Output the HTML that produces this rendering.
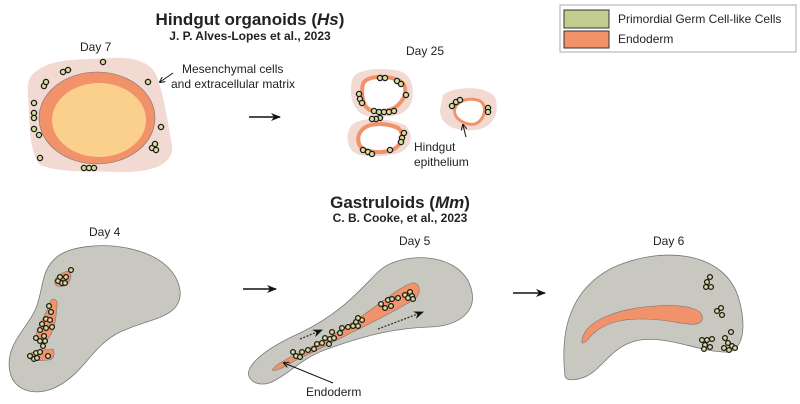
<!DOCTYPE html>
<html><head><meta charset="utf-8"><style>
html,body{margin:0;padding:0;background:#fff;width:800px;height:404px;overflow:hidden}
svg{display:block;font-family:"Liberation Sans",Arial,sans-serif}
.c{fill:#d8dc9c;stroke:#1a1a1a;stroke-width:1.3}
.t{font-size:12px;fill:#222}
</style></head><body>
<svg width="800" height="404" viewBox="0 0 800 404" xmlns="http://www.w3.org/2000/svg">
<defs>
<marker id="ah" markerWidth="10" markerHeight="8" refX="9" refY="4" orient="auto" markerUnits="userSpaceOnUse"><path d="M0,0 L10,4 L0,8 L3,4 Z" fill="#111"/></marker>
<marker id="sa" markerWidth="6" markerHeight="6" refX="5" refY="3" orient="auto" markerUnits="userSpaceOnUse"><path d="M0,0 L6,3 L0,6" fill="none" stroke="#111" stroke-width="1"/></marker>
</defs>
<text x="250" y="25" text-anchor="middle" font-size="17" font-weight="bold" fill="#222">Hindgut organoids (<tspan font-style="italic">Hs</tspan>)</text>
<text x="250" y="40" text-anchor="middle" font-size="12" font-weight="bold" fill="#222">J. P. Alves-Lopes et al., 2023</text>
<text x="400" y="208" text-anchor="middle" font-size="17" font-weight="bold" fill="#222">Gastruloids (<tspan font-style="italic">Mm</tspan>)</text>
<text x="400" y="222" text-anchor="middle" font-size="12" font-weight="bold" fill="#222">C. B. Cooke, et al., 2023</text>
<rect x="560" y="5" width="236" height="47" fill="#fff" stroke="#aaa"/>
<rect x="564" y="10" width="45" height="18" fill="#c5cc90" stroke="#333"/>
<rect x="564" y="31" width="45" height="17" fill="#f2926a" stroke="#333"/>
<text x="618" y="23" class="t">Primordial Germ Cell-like Cells</text>
<text x="618" y="43" class="t">Endoderm</text>
<!-- Day 7 -->
<text x="80" y="51" class="t">Day 7</text>
<path d="M38,70 C55,57 90,60 110,58 C140,56 155,66 158,80 C165,100 168,125 172,145 C175,165 150,173 120,172 C90,171 60,173 40,165 C28,150 30,120 28,95 C27,80 30,75 38,70 Z" fill="#f2d9d2"/>
<ellipse cx="97" cy="118" rx="58" ry="46" fill="#f2926a" stroke="#777" stroke-width="0.6"/>
<ellipse cx="99" cy="120" rx="47" ry="37" fill="#fbcf8c"/>
<g class="c">
<circle cx="103" cy="62" r="2.6"/><circle cx="63" cy="72" r="2.6"/><circle cx="68" cy="70" r="2.6"/><circle cx="44" cy="86" r="2.6"/><circle cx="46" cy="82" r="2.6"/><circle cx="148" cy="82" r="2.6"/>
<circle cx="34" cy="103" r="2.6"/><circle cx="34" cy="113" r="2.6"/><circle cx="34" cy="118" r="2.6"/><circle cx="34" cy="129" r="2.6"/><circle cx="39" cy="135" r="2.6"/><circle cx="161" cy="127" r="2.6"/>
<circle cx="152" cy="148" r="2.6"/><circle cx="155" cy="144" r="2.6"/><circle cx="156" cy="150" r="2.6"/><circle cx="40" cy="158" r="2.6"/><circle cx="84" cy="168" r="2.6"/><circle cx="89" cy="168" r="2.6"/><circle cx="94" cy="168" r="2.6"/>
</g>
<line x1="173" y1="73" x2="160" y2="82" stroke="#111" stroke-width="1" marker-end="url(#sa)"/>
<text x="182" y="73" class="t">Mesenchymal cells</text>
<text x="171" y="88" class="t">and extracellular matrix</text>
<line x1="249" y1="117" x2="280" y2="117" stroke="#111" stroke-width="1.5" marker-end="url(#ah)"/>
<!-- Day 25 -->
<text x="406" y="55" class="t">Day 25</text>
<path d="M352,80 C356,68 380,68 395,70 C410,72 415,85 412,100 C408,115 395,117 375,117 C355,117 348,100 352,80 Z" fill="#f2d9d2"/>
<path d="M352,125 C360,117 385,117 405,125 C415,135 412,150 395,154 C375,158 355,158 350,148 C346,140 347,130 352,125 Z" fill="#f2d9d2"/>
<path d="M443,95 C455,86 485,85 495,97 C500,110 495,128 475,130 C455,132 440,125 440,110 Z" fill="#f2d9d2"/>
<path d="M363,84 C366,76 385,75 398,80 C408,84 407,96 399,104 C392,112 380,112 370,110 C362,106 361,92 363,84 Z" fill="#fff" stroke="#f2926a" stroke-width="4"/>
<path d="M362,130 C368,123 385,122 398,128 C405,133 402,146 392,150 C380,154 365,152 360,146 C357,140 358,134 362,130 Z" fill="#fff" stroke="#f2926a" stroke-width="4"/>
<path d="M455,108 C458,100 470,97 480,101 C488,106 485,120 475,124 C465,126 452,118 455,108 Z" fill="#fff" stroke="#f2926a" stroke-width="3"/>
<g class="c">
<circle cx="380" cy="78" r="2.6"/><circle cx="385" cy="78" r="2.6"/><circle cx="397" cy="81" r="2.6"/><circle cx="401" cy="84" r="2.6"/><circle cx="406" cy="95" r="2.6"/>
<circle cx="359" cy="94" r="2.6"/><circle cx="360" cy="99" r="2.6"/><circle cx="362" cy="103" r="2.6"/>
<circle cx="374" cy="111" r="2.6"/><circle cx="379" cy="112" r="2.6"/><circle cx="384" cy="112" r="2.6"/><circle cx="389" cy="112" r="2.6"/><circle cx="394" cy="111" r="2.6"/><circle cx="380" cy="118" r="2.6"/><circle cx="376" cy="119" r="2.6"/><circle cx="372" cy="119" r="2.6"/>
<circle cx="404" cy="133" r="2.6"/><circle cx="402" cy="138" r="2.6"/><circle cx="401" cy="142" r="2.6"/><circle cx="363" cy="150" r="2.6"/><circle cx="368" cy="152" r="2.6"/><circle cx="372" cy="154" r="2.6"/><circle cx="390" cy="150" r="2.6"/>
<circle cx="452" cy="106" r="2.6"/><circle cx="456" cy="102" r="2.6"/><circle cx="460" cy="100" r="2.6"/><circle cx="488" cy="108" r="2.6"/><circle cx="488" cy="112" r="2.6"/>
</g>
<line x1="466" y1="137" x2="463" y2="125" stroke="#111" stroke-width="1" marker-end="url(#sa)"/>
<text x="414" y="151" class="t">Hindgut</text>
<text x="414" y="166" class="t">epithelium</text>
<!-- Day 4 -->
<text x="89" y="236" class="t">Day 4</text>
<path d="M10,372 C4,345 28,328 36,308 C44,288 40,270 58,256 C85,237 172,242 180,290 C183,318 150,318 120,332 C92,346 86,370 60,385 C38,398 14,392 10,372 Z" fill="#c8c8c1" stroke="#777" stroke-width="0.8"/>
<path d="M50,302 C53,296 58,300 57,306 C56,318 55,328 50,336 C45,344 38,344 36,338 C36,326 47,315 50,302 Z" fill="#f2926a" stroke="#777" stroke-width="0.6"/>
<path d="M56,278 C62,272 70,268 71,276 C70,284 64,288 57,286 C54,284 54,281 56,278 Z" fill="#f2926a" stroke="#777" stroke-width="0.6"/>
<path d="M28,355 C33,350 46,350 53,349 C55,354 54,360 48,360 C40,361 32,361 28,358 Z" fill="#f2926a" stroke="#777" stroke-width="0.6"/>
<g class="c">
<circle cx="71" cy="270" r="2.4"/><circle cx="58" cy="281" r="2.4"/><circle cx="62" cy="283" r="2.4"/><circle cx="66" cy="277" r="2.4"/><circle cx="65" cy="283" r="2.4"/><circle cx="60" cy="277" r="2.4"/>
<circle cx="51" cy="312" r="2.4"/><circle cx="46" cy="319" r="2.4"/><circle cx="50" cy="320" r="2.4"/><circle cx="42" cy="324" r="2.4"/><circle cx="46" cy="328" r="2.4"/><circle cx="52" cy="327" r="2.4"/><circle cx="40" cy="330" r="2.4"/><circle cx="44" cy="336" r="2.4"/><circle cx="36" cy="338" r="2.4"/><circle cx="40" cy="341" r="2.4"/><circle cx="45" cy="341" r="2.4"/><circle cx="49" cy="306" r="2.4"/>
<circle cx="43" cy="346" r="2.4"/><circle cx="30" cy="356" r="2.4"/><circle cx="34" cy="359" r="2.4"/><circle cx="36" cy="353" r="2.4"/><circle cx="37" cy="358" r="2.4"/><circle cx="40" cy="352" r="2.4"/><circle cx="48" cy="356" r="2.4"/>
</g>
<line x1="243" y1="289" x2="276" y2="289" stroke="#111" stroke-width="1.5" marker-end="url(#ah)"/>
<!-- Day 5 -->
<text x="399" y="245" class="t">Day 5</text>
<path d="M254,382 C238,372 258,352 300,333 C340,314 358,292 378,272 C398,252 456,250 470,285 C480,312 458,326 430,327 C392,328 360,337 322,351 C292,363 274,392 254,382 Z" fill="#c8c8c1" stroke="#777" stroke-width="0.8"/>
<path d="M272,370 C276,364 290,357 305,350 C330,338 360,318 380,303 C395,292 405,285 412,283 C420,282 422,292 415,299 C400,308 385,316 363,327 C340,338 315,352 300,358 C288,364 278,372 272,370 Z" fill="#f2926a" stroke="#777" stroke-width="0.6"/>
<g class="c">
<circle cx="293" cy="352" r="2.4"/><circle cx="296" cy="356" r="2.4"/><circle cx="302" cy="352" r="2.4"/><circle cx="300" cy="357" r="2.4"/><circle cx="308" cy="350" r="2.4"/><circle cx="314" cy="349" r="2.4"/><circle cx="317" cy="344" r="2.4"/><circle cx="322" cy="343" r="2.4"/><circle cx="325" cy="338" r="2.4"/><circle cx="330" cy="339" r="2.4"/><circle cx="329" cy="344" r="2.4"/><circle cx="334" cy="338" r="2.4"/><circle cx="332" cy="332" r="2.4"/><circle cx="340" cy="333" r="2.4"/><circle cx="342" cy="328" r="2.4"/><circle cx="348" cy="327" r="2.4"/><circle cx="353" cy="326" r="2.4"/><circle cx="356" cy="322" r="2.4"/><circle cx="358" cy="326" r="2.4"/><circle cx="362" cy="320" r="2.4"/><circle cx="358" cy="318" r="2.4"/>
<circle cx="381" cy="304" r="2.4"/><circle cx="385" cy="308" r="2.4"/><circle cx="388" cy="300" r="2.4"/><circle cx="392" cy="299" r="2.4"/><circle cx="398" cy="298" r="2.4"/><circle cx="405" cy="295" r="2.4"/><circle cx="410" cy="292" r="2.4"/><circle cx="412" cy="296" r="2.4"/><circle cx="413" cy="299" r="2.4"/><circle cx="408" cy="298" r="2.4"/><circle cx="391" cy="306" r="2.4"/>
</g>
<line x1="300" y1="339" x2="322" y2="330" stroke="#333" stroke-width="1.3" stroke-dasharray="2,1.5" marker-end="url(#ah)"/>
<line x1="378" y1="329" x2="423" y2="312" stroke="#333" stroke-width="1.3" stroke-dasharray="2,1.5" marker-end="url(#ah)"/>
<line x1="333" y1="383" x2="284" y2="363" stroke="#111" stroke-width="1" marker-end="url(#sa)"/>
<text x="306" y="396" class="t">Endoderm</text>
<line x1="513" y1="293" x2="545" y2="293" stroke="#111" stroke-width="1.5" marker-end="url(#ah)"/>
<!-- Day 6 -->
<text x="653" y="245" class="t">Day 6</text>
<path d="M565,376 C560,330 570,290 612,268 C660,246 722,250 738,296 C746,322 745,346 730,352 C700,353 672,336 640,340 C610,345 602,372 582,378 C572,381 566,380 565,376 Z" fill="#c8c8c1" stroke="#777" stroke-width="0.8"/>
<path d="M582,340 C585,320 620,308 655,306 C690,304 705,310 702,320 C698,328 685,323 660,320 C630,317 605,320 590,337 C584,345 581,344 582,340 Z" fill="#f2926a" stroke="#777" stroke-width="0.6"/>
<g class="c">
<circle cx="710" cy="277" r="2.4"/><circle cx="707" cy="282" r="2.4"/><circle cx="706" cy="287" r="2.4"/><circle cx="711" cy="287" r="2.4"/>
<circle cx="717" cy="311" r="2.4"/><circle cx="721" cy="308" r="2.4"/><circle cx="722" cy="315" r="2.4"/><circle cx="731" cy="332" r="2.4"/>
<circle cx="702" cy="340" r="2.4"/><circle cx="707" cy="340" r="2.4"/><circle cx="712" cy="339" r="2.4"/><circle cx="705" cy="345" r="2.4"/><circle cx="710" cy="347" r="2.4"/><circle cx="704" cy="349" r="2.4"/>
<circle cx="725" cy="338" r="2.4"/><circle cx="728" cy="343" r="2.4"/><circle cx="732" cy="346" r="2.4"/><circle cx="724" cy="348" r="2.4"/><circle cx="729" cy="350" r="2.4"/><circle cx="735" cy="348" r="2.4"/>
</g>
</svg>
</body></html>
